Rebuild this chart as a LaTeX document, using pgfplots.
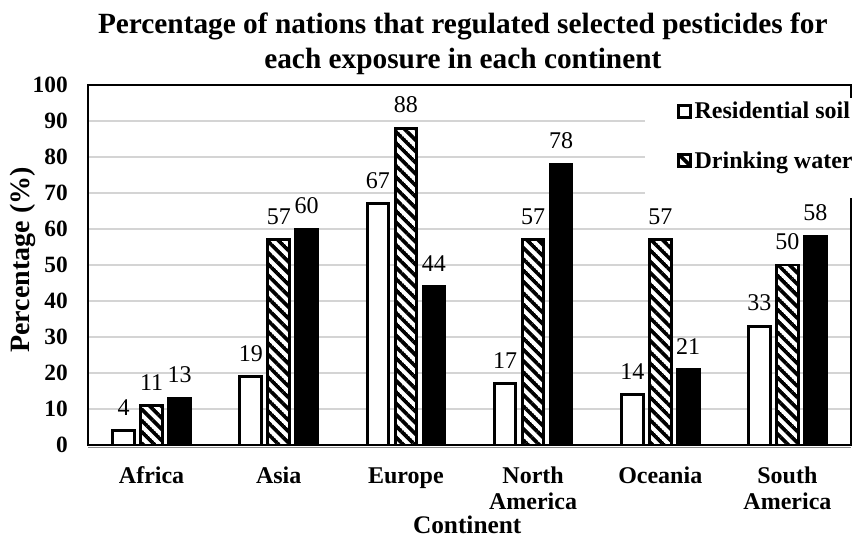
\documentclass[border=0pt]{standalone}
\usepackage{pgfplots}
\usepackage{pgfplotstable}
\pgfplotsset{compat=1.18}
\usepackage{fontspec}
\setmainfont{Liberation Serif}
\usetikzlibrary{patterns.meta,calc}

\tikzdeclarepattern{
  name=mylines,
  parameters={
    \pgfkeysvalueof{/pgf/pattern keys/size},
    \pgfkeysvalueof{/pgf/pattern keys/angle},
    \pgfkeysvalueof{/pgf/pattern keys/line width},
  },
  bounding box={
    (0,-0.5*\pgfkeysvalueof{/pgf/pattern keys/line width}) and
    (\pgfkeysvalueof{/pgf/pattern keys/size},
     0.5*\pgfkeysvalueof{/pgf/pattern keys/line width})},
  tile size={(\pgfkeysvalueof{/pgf/pattern keys/size},
              \pgfkeysvalueof{/pgf/pattern keys/size})},
  tile transformation={rotate=\pgfkeysvalueof{/pgf/pattern keys/angle}},
  defaults={
    size/.initial=5pt,
    angle/.initial=45,
    line width/.initial=.4pt,
  },
  code={
    \draw [line width=\pgfkeysvalueof{/pgf/pattern keys/line width}]
      (0,0) -- (\pgfkeysvalueof{/pgf/pattern keys/size},0);
  },
}

\pgfplotstableread{
x res drink agri
0 4  11 13
1 19 57 60
2 67 88 44
3 17 57 78
4 14 57 21
5 33 50 58
}\datatable

\newcommand{\fs}{\fontsize{18}{19.5}\selectfont}

\begin{document}
\begin{tikzpicture}
\begin{axis}[
  name=ax,
  width=572.25pt, height=270pt, scale only axis,
  xmin=-0.5, xmax=5.5, ymin=0, ymax=100,
  ytick={0,10,...,100},
  xtick={0,1,2,3,4,5},
  xticklabels={\strut Africa,\strut Asia,\strut Europe,\strut North\\America,\strut Oceania,\strut South\\America},
  /pgf/number format/assume math mode=true,
  xticklabel style={align=center, font=\bfseries\fs, anchor=north, inner sep=0pt, yshift=-15pt},
  yticklabel style={font=\bfseries\fontsize{17.5}{19}\selectfont, anchor=east, inner sep=0pt, xshift=-15pt},
  major tick length=0pt,
  ymajorgrids,
  grid style={color=black!17, line width=1.1pt},
  axis line style={line width=2.2pt},
  clip=false,
  title={Percentage of nations that regulated selected pesticides for\\each exposure in each continent},
  title style={font=\bfseries\fontsize{22}{26}\selectfont, align=center, at={(0.5,1)}, anchor=south, inner sep=0pt, yshift=1.5pt, xshift=-5pt},
  xlabel={Continent},
  xlabel style={font=\bfseries\fontsize{19}{21}\selectfont, at={(axis description cs:0.497,-0.222)}, anchor=center},
  ylabel={Percentage (\%)},
  ylabel style={font=\bfseries\fontsize{21}{23}\selectfont, at={(axis description cs:-0.086,0.514)}, anchor=center},
  nodes near coords,
  nodes near coords style={font=\fs, black, yshift=7pt},
  legend style={at={(rel axis cs:0.772,0.858)}, anchor=west, fill=none, draw=none,
    font=\bfseries\fs, row sep=19pt, inner sep=0pt},
  legend cell align=left,
  legend image code/.code={\draw[#1, line width=2pt] (0pt,-4.5pt) rectangle (9pt,4.5pt);},
]
\addplot[ybar, bar width=0.17, bar shift=0, draw=black, line width=2.2pt, fill=white]
  table[x expr=\thisrow{x}-0.22, y=res] {\datatable};
\addlegendentry{Residential soil}
\addplot[ybar, bar width=0.17, bar shift=0, draw=black, line width=2.2pt, fill=white,
  postaction={pattern={mylines[size=6pt, line width=2.8pt, angle=-45]}}]
  table[x=x, y=drink] {\datatable};
\addlegendentry{Drinking water}
\addplot[ybar, bar width=0.17, bar shift=0, draw=black, line width=2.2pt, fill=black, forget plot]
  table[x expr=\thisrow{x}+0.22, y=agri] {\datatable};
\draw[black!45, line width=0.8pt, yshift=-2pt] (rel axis cs:0,0) -- (rel axis cs:1,0);
\fill[white] (rel axis cs:0.730,0.686) rectangle (rel axis cs:1.02,0.964);
\end{axis}
\pgfresetboundingbox
\path ($(ax.south west)+(-66pt,-70.5pt)$) rectangle ($(ax.north east)+(2.25pt,63.75pt)$);
\end{tikzpicture}
\end{document}
